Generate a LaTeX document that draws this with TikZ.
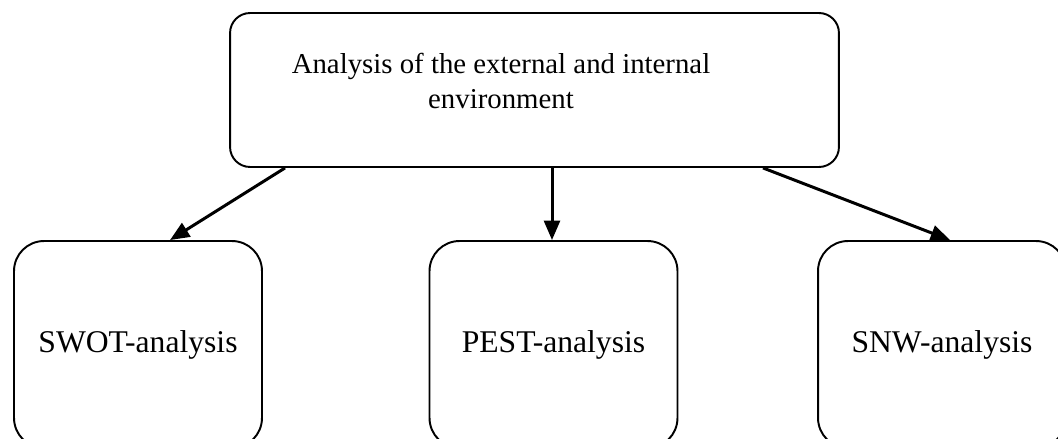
\documentclass[tikz,border=0pt]{standalone}
\usepackage{fontspec}
\setmainfont{Liberation Serif}
\usetikzlibrary{arrows.meta}
\begin{document}
\begin{tikzpicture}[x=0.02cm,y=-0.02cm,
    topbox/.style={draw,line width=1.1pt,rounded corners=0.4cm,minimum width=12.18cm,minimum height=3.08cm,inner sep=0pt},
    box/.style={draw,line width=1.1pt,rounded corners=0.6cm,minimum width=4.96cm,minimum height=4.14cm,inner sep=0pt,font=\fontsize{18}{21.6}\selectfont},
    link/.style={draw,line width=1.7pt,-{Triangle[length=11pt,width=9pt]}}]

        \clip (0,0) rectangle (1058,439);

        \node[topbox] (env) at (534.5,90) {};
        \node[align=center,inner sep=0pt,font=\fontsize{16.4}{19.8}\selectfont] (envtext) at (501,81)
          {Analysis of the external and internal\\environment};

        \begin{scope}[every node/.style={box}]
          \node (swot) at (138,344.5) {SWOT-analysis};
          \node (pest) at (553.5,344.5) {PEST-analysis};
          \node (snw)  at (942,344.5) {SNW-analysis};
        \end{scope}

        \begin{scope}[every edge/.style={link}]
          \path (env.south -| 285,0) edge (swot.north -| 170,0);
          \path (env.south -| 552,0) edge (pest.north -| 552,0);
          \path (env.south -| 763,0) edge (snw.north -| 950,0);
        \end{scope}

      \end{tikzpicture}
\end{document}
